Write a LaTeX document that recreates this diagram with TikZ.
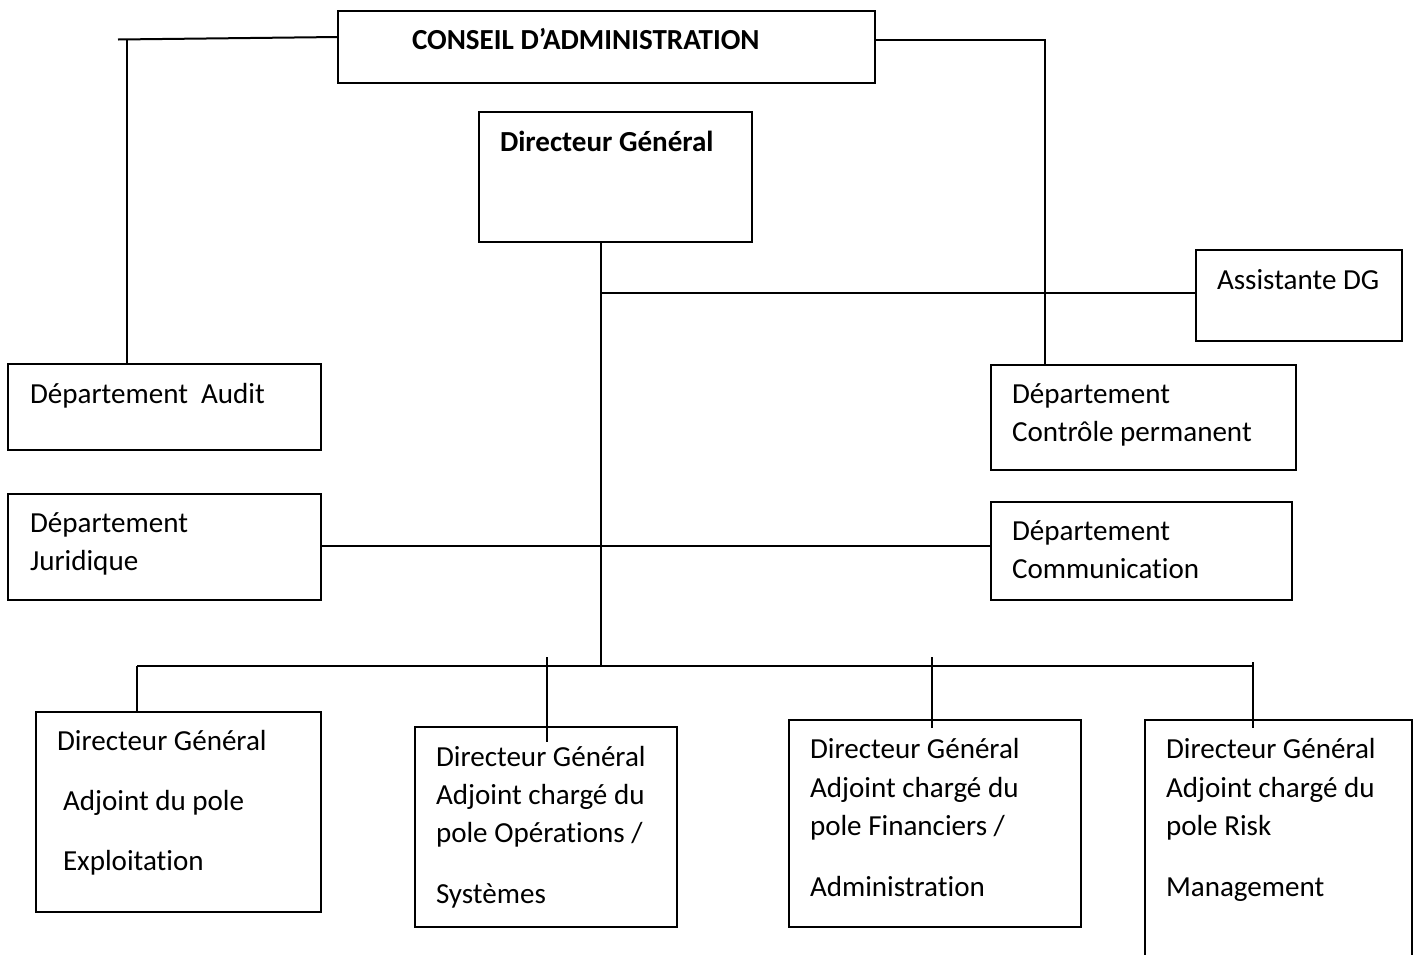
\documentclass[tikz,border=0pt]{standalone}
\usepackage{fontspec}
\setmainfont{Carlito}[RawFeature={-liga}]
\begin{document}
\begin{tikzpicture}[x=0.75pt,y=-0.75pt,
  line width=1.5pt,
  box/.style={draw, rectangle, inner sep=0pt, outer sep=0pt},
  txt/.style={anchor=base west, inner sep=0pt, font=\fontsize{21.8}{26}\selectfont},
  btxt/.style={txt, font=\fontsize{21.8}{26}\selectfont\bfseries}]
\useasboundingbox (0,0) rectangle (1417,954);
\clip (0,0) rectangle (1417,954);

% box drawn from its top-left and bottom-right corners
\newcommand\orgbox[5]{%
  \node[box, minimum width={(#4-#2)*0.75pt}, minimum height={(#5-#3)*0.75pt}]
    (#1) at ({(#2+#4)/2},{(#3+#5)/2}) {};}

\orgbox{ca}{338}{11}{875}{83}
\orgbox{dg}{479}{112}{752}{242}
\orgbox{assist}{1196}{250}{1402}{341}
\orgbox{audit}{8}{364}{321}{450}
\orgbox{controle}{991}{365}{1296}{470}
\orgbox{juridique}{8}{494}{321}{600}
\orgbox{comm}{991}{502}{1292}{600}
\orgbox{exploit}{36}{712}{321}{912}
\orgbox{operations}{415}{727}{677}{927}
\orgbox{finance}{789}{720}{1081}{927}
\orgbox{risk}{1145}{720}{1412}{980}

% texts
\node[btxt] (caT) at (411,49) {CONSEIL D’ADMINISTRATION};
\node[btxt] (dgT) at (499,151) {Directeur Général};
\node[txt] (assistT) at (1216,289) {Assistante DG};
\node[txt] (auditT) at (29,403) {Département\ \ Audit};
\node[txt] (controleT1) at (1011,403) {Département};
\node[txt] (controleT2) at (1011,441) {Contrôle permanent};
\node[txt] (juridiqueT1) at (29,532) {Département};
\node[txt] (juridiqueT2) at (29,570) {Juridique};
\node[txt] (commT1) at (1011,540) {Département};
\node[txt] (commT2) at (1011,578) {Communication};
\node[txt] (exploitT1) at (56,750) {Directeur Général};
\node[txt] (exploitT2) at (62,810) {Adjoint du pole};
\node[txt] (exploitT3) at (62,870) {Exploitation};
\node[txt] (operationsT1) at (435,766) {Directeur Général};
\node[txt] (operationsT2) at (435,804) {Adjoint chargé du};
\node[txt] (operationsT3) at (435,842) {pole Opérations /};
\node[txt] (operationsT4) at (435,903) {Systèmes};
\node[txt] (financeT1) at (809,758) {Directeur Général};
\node[txt] (financeT2) at (809,797) {Adjoint chargé du};
\node[txt] (financeT3) at (809,835) {pole Financiers /};
\node[txt] (financeT4) at (809,896) {Administration};
\node[txt] (riskT1) at (1165,758) {Directeur Général};
\node[txt] (riskT2) at (1165,797) {Adjoint chargé du};
\node[txt] (riskT3) at (1165,835) {pole Risk};
\node[txt] (riskT4) at (1165,896) {Management};

% junction points
\coordinate (caLeft) at (338,37);
\coordinate (stubL) at (118,39.5);
\coordinate (auditUp) at (127,39.3);
\coordinate (auditDown) at (127,364);
\coordinate (caRight) at (875,40);
\coordinate (ctrlUp) at (1045,40);
\coordinate (ctrlDown) at (1045,365);
\coordinate (dgDown) at (601,242);
\coordinate (assistJ) at (601,293);
\coordinate (deptJ) at (601,546);
\coordinate (busJ) at (601,666);
\coordinate (busL) at (137,666);
\coordinate (busR) at (1253,666);
\coordinate (opTop) at (547,657);
\coordinate (opBot) at (547,742);
\coordinate (finTop) at (932,657);
\coordinate (finBot) at (932,728);
\coordinate (riskTop) at (1253,662);
\coordinate (riskBot) at (1253,728);

% connectors
\draw (stubL) -- (caLeft);
\draw (auditUp) -- (auditDown);
\draw (caRight) -- (ctrlUp) -- (ctrlDown);
\draw (dgDown) -- (busJ);
\draw (assistJ) -- (assist.west |- assistJ);
\draw (juridique.east |- deptJ) -- (comm.west |- deptJ);
\draw (busL) -- (busJ) -- (busR);
\draw (busL) -- (exploit.north -| busL);
\draw (opTop) -- (opBot);
\draw (finTop) -- (finBot);
\draw (riskTop) -- (riskBot);
\end{tikzpicture}
\end{document}
